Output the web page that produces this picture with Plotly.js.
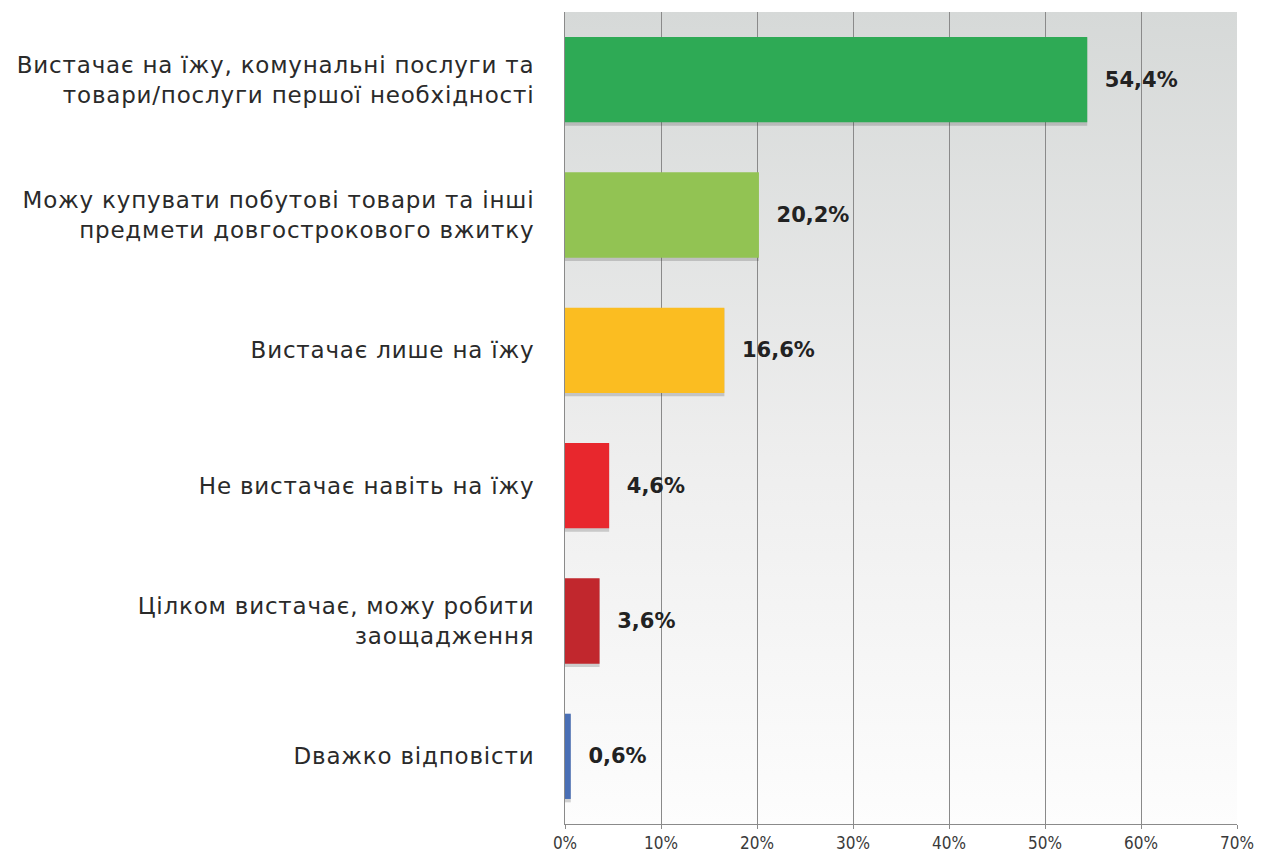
<!DOCTYPE html>
<html>
<head>
<meta charset="utf-8">
<script src="https://cdn.plot.ly/plotly-3.0.1.min.js"></script>
<style>
html,body{margin:0;padding:0;background:#fff;}
#chart{width:1262px;height:860px;}
#chart .ytick text{letter-spacing:0.8px;}
</style>
</head>
<body>
<div id="chart"></div>
<script>
const categories = [
  "Вистачає на їжу, комунальні послуги та<br>товари/послуги першої необхідності",
  "Можу купувати побутові товари та інші<br>предмети довгострокового вжитку",
  "Вистачає лише на їжу",
  "Не вистачає навіть на їжу",
  "Цілком вистачає, можу робити<br>заощадження",
  "Dважко відповісти"
];
const values = [54.4, 20.2, 16.6, 4.6, 3.6, 0.6];
const barColors = ["#2eaa55", "#92c353", "#fbbd21", "#e8272d", "#c1272d", "#4a6fb5"];
const tickValues = [0, 10, 20, 30, 40, 50, 60, 70];

const bgSvg = '<svg xmlns="http://www.w3.org/2000/svg" width="10" height="100" preserveAspectRatio="none">' +
  '<defs><linearGradient id="g" x1="0" y1="0" x2="0" y2="1">' +
  '<stop offset="0" stop-color="#d6d9d8"/><stop offset="0.55" stop-color="#eeeeee"/><stop offset="1" stop-color="#fdfdfd"/>' +
  '</linearGradient></defs><rect width="10" height="100" fill="url(#g)"/></svg>';
const bgUri = 'data:image/svg+xml;base64,' + btoa(bgSvg);

const shadow = {
  type: 'bar',
  orientation: 'h',
  y: categories,
  x: values,
  marker: { color: 'rgba(60,60,60,0.22)', line: { width: 0 } },
  width: 0.65,
  offset: -0.31,
  hoverinfo: 'none'
};

const trace = {
  type: 'bar',
  orientation: 'h',
  y: categories,
  x: values,
  marker: { color: barColors, line: { width: 0 } },
  width: 0.63,
  offset: -0.315,
  text: values.map(v => '  ' + v.toFixed(1).replace('.', ',') + '%'),
  textposition: 'outside',
  cliponaxis: false,
  textfont: { family: '"DejaVu Sans", sans-serif', size: 21, color: '#222', weight: 'bold' },
  hoverinfo: 'none'
};

const layout = {
  width: 1262,
  height: 860,
  margin: { l: 565, r: 25, t: 12, b: 36 },
  paper_bgcolor: '#ffffff',
  plot_bgcolor: 'rgba(0,0,0,0)',
  showlegend: false,
  barmode: 'overlay',
  images: [{
    source: bgUri, xref: 'paper', yref: 'paper', x: 0, y: 1, sizex: 1, sizey: 1,
    xanchor: 'left', yanchor: 'top', sizing: 'stretch', layer: 'below'
  }],
  xaxis: {
    range: [0, 70],
    tickvals: tickValues,
    ticktext: tickValues.map(v => v + '%'),
    showgrid: true,
    gridcolor: '#8a8a8a',
    gridwidth: 1,
    zeroline: false,
    showline: true,
    linecolor: '#8a8a8a',
    mirror: false,
    ticks: 'outside',
    ticklen: 4,
    tickcolor: '#8a8a8a',
    tickfont: { family: '"DejaVu Sans Condensed", "Liberation Sans Narrow", sans-serif', size: 17, color: '#3a3a3a' }
  },
  yaxis: {
    range: [5.5, -0.5],
    showgrid: false,
    zeroline: false,
    showline: true,
    linecolor: '#8a8a8a',
    ticks: '',
    ticklabelstandoff: 25,
    tickfont: { family: '"DejaVu Sans", sans-serif', size: 23, color: '#2a2a2a' }
  }
};

Plotly.newPlot('chart', [shadow, trace], layout, { displayModeBar: false, staticPlot: true });
</script>
</body>
</html>
